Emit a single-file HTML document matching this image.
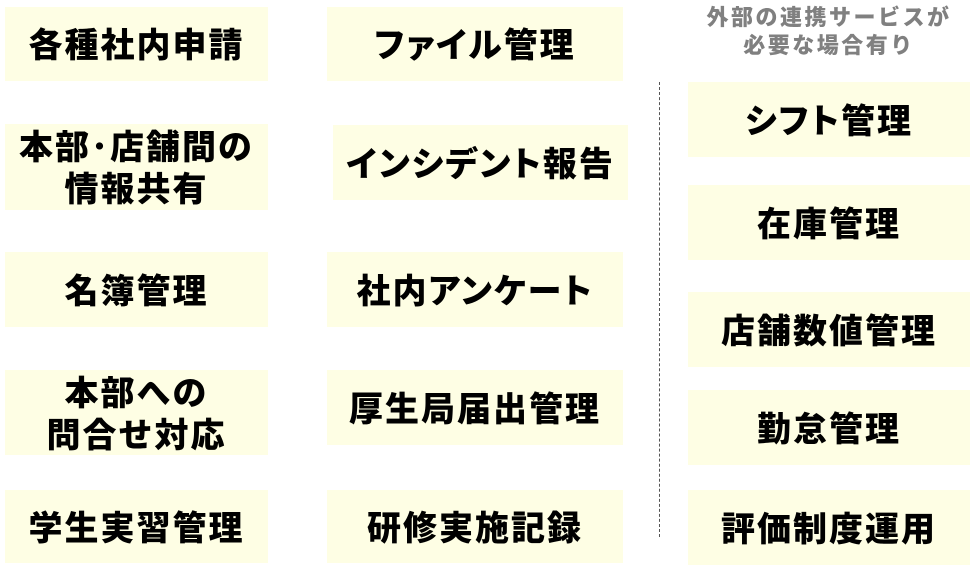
<!DOCTYPE html>
<html><head><meta charset="utf-8"><style>
body{margin:0;width:970px;height:569px;background:#fff;position:relative;overflow:hidden;font-family:"Liberation Sans","Noto Sans CJK JP",sans-serif;}
.b{position:absolute;background:#fefee4;display:flex;align-items:center;justify-content:center;text-align:center;font-weight:900;font-size:34px;letter-spacing:2px;line-height:42px;color:#000;padding-top:4px;box-sizing:border-box;}
.k{font-feature-settings:"palt";}
.h{position:absolute;left:688px;width:282px;top:4px;text-align:center;color:#808080;font-weight:900;font-size:22px;letter-spacing:2.5px;line-height:28px;}
.d{position:absolute;left:659px;top:82px;height:455px;border-left:1px dashed #555;}
</style></head><body>
<div class="b" style="left:5px;top:7px;width:263px;height:74px">各種社内申請</div>
<div class="b" style="left:5px;top:124px;width:263px;height:86px">本部･店舗間の<br>情報共有</div>
<div class="b" style="left:5px;top:252px;width:263px;height:75px">名簿管理</div>
<div class="b" style="left:5px;top:370px;width:263px;height:85px">本部への<br>問合せ対応</div>
<div class="b" style="left:5px;top:490px;width:263px;height:73px">学生実習管理</div>
<div class="b k" style="left:327px;top:7px;width:296px;height:74px">ファイル管理</div>
<div class="b k" style="left:333px;top:125px;width:295px;height:75px">インシデント報告</div>
<div class="b k" style="left:327px;top:252px;width:296px;height:75px">社内アンケート</div>
<div class="b" style="left:327px;top:370px;width:296px;height:75px">厚生局届出管理</div>
<div class="b" style="left:327px;top:490px;width:296px;height:73px">研修実施記録</div>
<div class="h">外部の連携サービスが<br>必要な場合有り</div>
<div class="d"></div>
<div class="b k" style="left:688px;top:82px;width:282px;height:75px">シフト管理</div>
<div class="b" style="left:688px;top:185px;width:282px;height:75px">在庫管理</div>
<div class="b" style="left:688px;top:292px;width:282px;height:75px">店舗数値管理</div>
<div class="b" style="left:688px;top:390px;width:282px;height:75px">勤怠管理</div>
<div class="b" style="left:688px;top:490px;width:282px;height:75px">評価制度運用</div>
</body></html>
